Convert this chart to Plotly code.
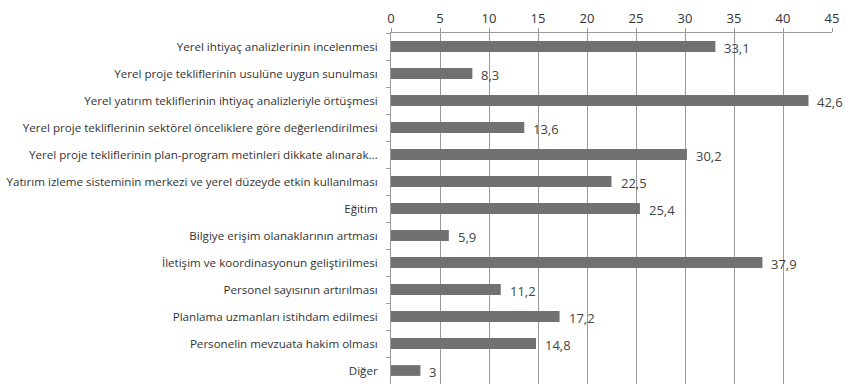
import plotly.graph_objects as go

categories = [
    "Yerel ihtiyaç analizlerinin incelenmesi",
    "Yerel proje tekliflerinin usulüne uygun sunulması",
    "Yerel yatırım tekliflerinin ihtiyaç analizleriyle örtüşmesi",
    "Yerel proje tekliflerinin sektörel önceliklere göre değerlendirilmesi",
    "Yerel proje tekliflerinin plan-program metinleri dikkate alınarak...",
    "Yatırım izleme sisteminin merkezi ve yerel düzeyde etkin kullanılması",
    "Eğitim",
    "Bilgiye erişim olanaklarının artması",
    "İletişim ve koordinasyonun geliştirilmesi",
    "Personel sayısının artırılması",
    "Planlama uzmanları istihdam edilmesi",
    "Personelin mevzuata hakim olması",
    "Diğer",
]
values = [33.1, 8.3, 42.6, 13.6, 30.2, 22.5, 25.4, 5.9, 37.9, 11.2, 17.2, 14.8, 3]
value_labels = [f"{v:g}".replace(".", ",") for v in values]
x_ticks = [0, 5, 10, 15, 20, 25, 30, 35, 40, 45]

fig = go.Figure(
    go.Bar(
        x=values,
        y=categories,
        orientation="h",
        marker=dict(color="#717171", line=dict(width=0)),
        width=0.4,
    )
)

# value labels to the right of each bar
for cat, v, lab in zip(categories, values, value_labels):
    fig.add_annotation(
        x=v, y=cat, text=lab, showarrow=False,
        xanchor="left", xshift=7, yshift=-1,
        font=dict(family="Open Sans, sans-serif", size=13, color="#444444"),
    )

fig.update_layout(
    width=846,
    height=386,
    margin=dict(l=391, r=14, t=33, b=2),
    paper_bgcolor="white",
    plot_bgcolor="white",
    showlegend=False,
    font=dict(family="Open Sans, sans-serif", color="#333333"),
)

fig.update_xaxes(
    side="top",
    range=[0, 45],
    tickvals=x_ticks,
    ticktext=[str(t) for t in x_ticks],
    tickfont=dict(size=13, color="#333333"),
    showgrid=True,
    gridcolor="#9a9a9a",
    gridwidth=1,
    showline=True,
    linecolor="#9a9a9a",
    linewidth=1,
    ticks="outside",
    ticklen=4,
    tickcolor="#9a9a9a",
    zeroline=False,
)

fig.update_yaxes(
    autorange="reversed",
    tickfont=dict(size=11.6, color="#333333"),
    showline=True,
    linecolor="#9a9a9a",
    linewidth=1,
    ticks="outside",
    ticklen=4,
    tickcolor="#9a9a9a",
    tickson="boundaries",
    showgrid=False,
    ticklabelstandoff=10,
)

fig.write_html("out.html")
